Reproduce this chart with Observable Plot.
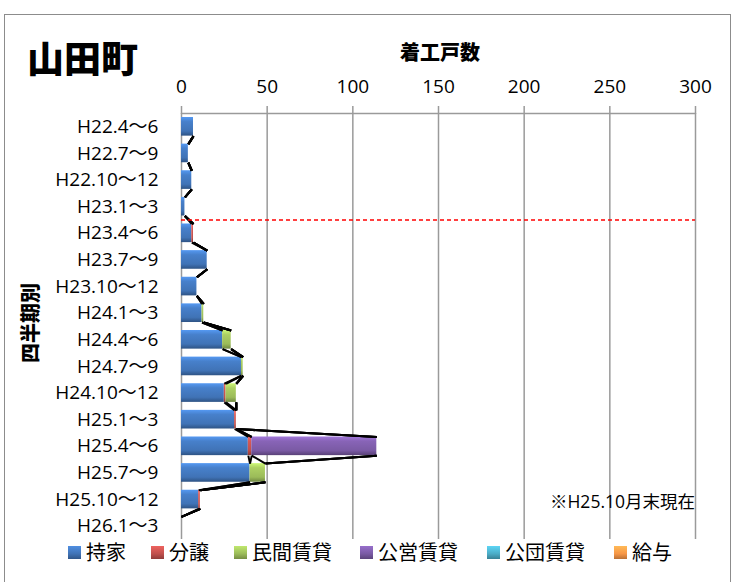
<!DOCTYPE html>
<html>
<head>
<meta charset="utf-8">
<script src="https://cdn.jsdelivr.net/npm/d3@7"></script>
<script src="https://cdn.jsdelivr.net/npm/@observablehq/plot@0.6"></script>
<style>
  html, body { margin: 0; padding: 0; background: #fff; }
  #wrap { position: relative; width: 738px; height: 582px; overflow: hidden; background: #fff;
          font-family: "Open Sans", "Noto Sans CJK JP", sans-serif; color: #000; }
  #chart { position: absolute; left: 0; top: 0; }
  .abs { position: absolute; white-space: nowrap; line-height: 1; }
  #border { position: absolute; left: 4px; top: 14px; width: 727px; height: 620px; border: 1.5px solid #8c8c8c; box-sizing: border-box; }
  #title { left: 27px; top: 39px; font-size: 37px; font-weight: 900; font-family: "Noto Sans CJK JP", sans-serif; }
  #xlabel { left: 440px; top: 42px; transform: translateX(-50%); font-size: 20px; font-weight: 900; font-family: "Noto Sans CJK JP", sans-serif; }
  #ylabel { left: 30px; top: 323px; transform: translate(-50%, -50%) rotate(-90deg); font-size: 20px; font-weight: 900; font-family: "Noto Sans CJK JP", sans-serif; }
  #note { right: 43px; top: 493px; font-size: 17.5px; font-family: "Open Sans", "Noto Sans CJK JP", sans-serif; }
  #legend { position: absolute; left: 0; top: 541px; width: 738px; height: 22px; }
  .li { position: absolute; top: 0; display: flex; align-items: center; height: 22px; white-space: nowrap; width: max-content; }
  .sw { width: 13px; height: 13px; margin-right: 5px; flex: none; }
  .lt { font-size: 20px; font-family: "Noto Sans CJK JP", sans-serif; line-height: 1; white-space: nowrap; display: inline-block; }
  svg [aria-label^="x-axis"] text { font-size: 19px; }
  svg [aria-label^="y-axis"] text { font-size: 19px; }
</style>
</head>
<body>
<div id="wrap">
  <div id="border"></div>
  <div id="chart"></div>
  <div id="title" class="abs">山田町</div>
  <div id="xlabel" class="abs">着工戸数</div>
  <div id="ylabel" class="abs">四半期別</div>
  <div id="note" class="abs">※H25.10月末現在</div>
  <div id="legend"></div>
</div>
<script>
// ---- data ----
const categories = ["H22.4〜6","H22.7〜9","H22.10〜12","H23.1〜3","H23.4〜6","H23.7〜9","H23.10〜12","H24.1〜3","H24.4〜6","H24.7〜9","H24.10〜12","H25.1〜3","H25.4〜6","H25.7〜9","H25.10〜12","H26.1〜3"];
const seriesNames = ["持家","分譲","民間賃貸","公営賃貸","公団賃貸","給与"];
const mochiie   = [7,4,6,2,6,15,9,12,24,35,25,31,39,40,10,0];
const bunjo     = [0,0,0,0,1,0,0,0,0,0,1,1,2,0,1,0];
const minkan    = [0,0,0,0,0,0,0,1,5,1,6,0,0,9,0,0];
const koei      = [0,0,0,0,0,0,0,0,0,0,0,0,73,0,0,0];
const kodan     = [0,0,0,0,0,0,0,0,0,0,0,0,0,0,0,0];
const kyuyo     = [0,0,0,0,0,0,0,0,0,0,0,0,0,0,0,0];
const seriesValues = [mochiie, bunjo, minkan, koei, kodan, kyuyo];
const xTicks = [0,50,100,150,200,250,300];
const dividerAfter = "H23.1〜3";
const colors = ["#4073b6","#c0504d","#9bbb59","#7a5aa4","#4bacc6","#f79646"];

// ---- derived table ----
const half = 0.35;
const cum = seriesValues.map(() => []);
categories.forEach((c, i) => {
  let acc = 0;
  seriesValues.forEach((vals, k) => { acc += vals[i]; cum[k][i] = acc; });
});
const rows = [];
seriesValues.forEach((vals, k) => {
  vals.forEach((v, i) => {
    rows.push({series: k, i, x1: cum[k][i] - v, x2: cum[k][i], v});
  });
});
const links = [];
for (let i = 0; i < categories.length - 1; i++) {
  seriesValues.forEach((_, k) => {
    links.push({from: cum[k][i], to: cum[k][i + 1], i});
  });
}
const divIdx = categories.indexOf(dividerAfter) + 0.5;

const marks = [
  Plot.ruleX(xTicks.slice(1), {stroke: "#9a9a9a", strokeWidth: 1.5}),
  Plot.ruleY([-0.5], {stroke: "#9a9a9a", strokeWidth: 1.5}),
  Plot.ruleX([0], {stroke: "#9a9a9a", strokeWidth: 1.5}),
];
seriesValues.forEach((_, k) => {
  marks.push(Plot.rectX(rows.filter(d => d.series === k && d.v > 0), {
    x1: "x1", x2: "x2", y1: d => d.i - half, y2: d => d.i + half,
    fill: `url(#grad${k})`
  }));
});
marks.push(Plot.link(links, {
  x1: "from", x2: "to", y1: d => d.i + half, y2: d => d.i + 1 - half,
  stroke: "#000", strokeWidth: 2
}));
marks.push(Plot.ruleY([divIdx], {stroke: "#ff0000", strokeWidth: 1.5, strokeDasharray: "4,3"}));

const chart = Plot.plot({
  width: 738, height: 582,
  marginTop: 113, marginBottom: 43, marginLeft: 181, marginRight: 43,
  style: {fontFamily: '"Open Sans", "Noto Sans CJK JP", sans-serif', color: "#000", background: "transparent"},
  x: {domain: [0, 300], axis: "top", ticks: xTicks, tickSize: 8, tickPadding: 13, label: null, tickFormat: d => String(d)},
  y: {domain: [-0.5, categories.length - 0.5], reverse: true, ticks: categories.map((_, i) => i),
      tickFormat: i => categories[i], tickSize: 0, tickPadding: 23, label: null},
  marks
});

// gradients for bevel look
const svg = d3.select(chart);
const defs = svg.insert("defs", ":first-child");
colors.forEach((c, k) => {
  const base = d3.color(c);
  const g = defs.append("linearGradient").attr("id", `grad${k}`).attr("x1", 0).attr("y1", 0).attr("x2", 0).attr("y2", 1);
  g.append("stop").attr("offset", "0%").attr("stop-color", base.brighter(0.8).formatHex());
  g.append("stop").attr("offset", "25%").attr("stop-color", base.brighter(0.3).formatHex());
  g.append("stop").attr("offset", "75%").attr("stop-color", base.formatHex());
  g.append("stop").attr("offset", "100%").attr("stop-color", base.darker(0.9).formatHex());
});
svg.selectAll('[aria-label^="x-axis"] line, [aria-label^="x-axis"] path').attr("stroke", "#9a9a9a").attr("stroke-width", 1.5);
document.getElementById("chart").appendChild(chart);

// legend
const legendX = [68, 151, 234, 360, 487, 614];
const legend = document.getElementById("legend");
seriesNames.forEach((name, k) => {
  const base = d3.color(colors[k]);
  const item = document.createElement("div");
  item.className = "li";
  item.style.left = legendX[k] + "px";
  const sw = document.createElement("div");
  sw.className = "sw";
  sw.style.background = `linear-gradient(${base.brighter(0.6).formatHex()}, ${base.formatHex()} 60%, ${base.darker(0.8).formatHex()})`;
  const t = document.createElement("span");
  t.className = "lt";
  t.textContent = name;
  item.appendChild(sw); item.appendChild(t);
  legend.appendChild(item);
});
</script>
</body>
</html>
